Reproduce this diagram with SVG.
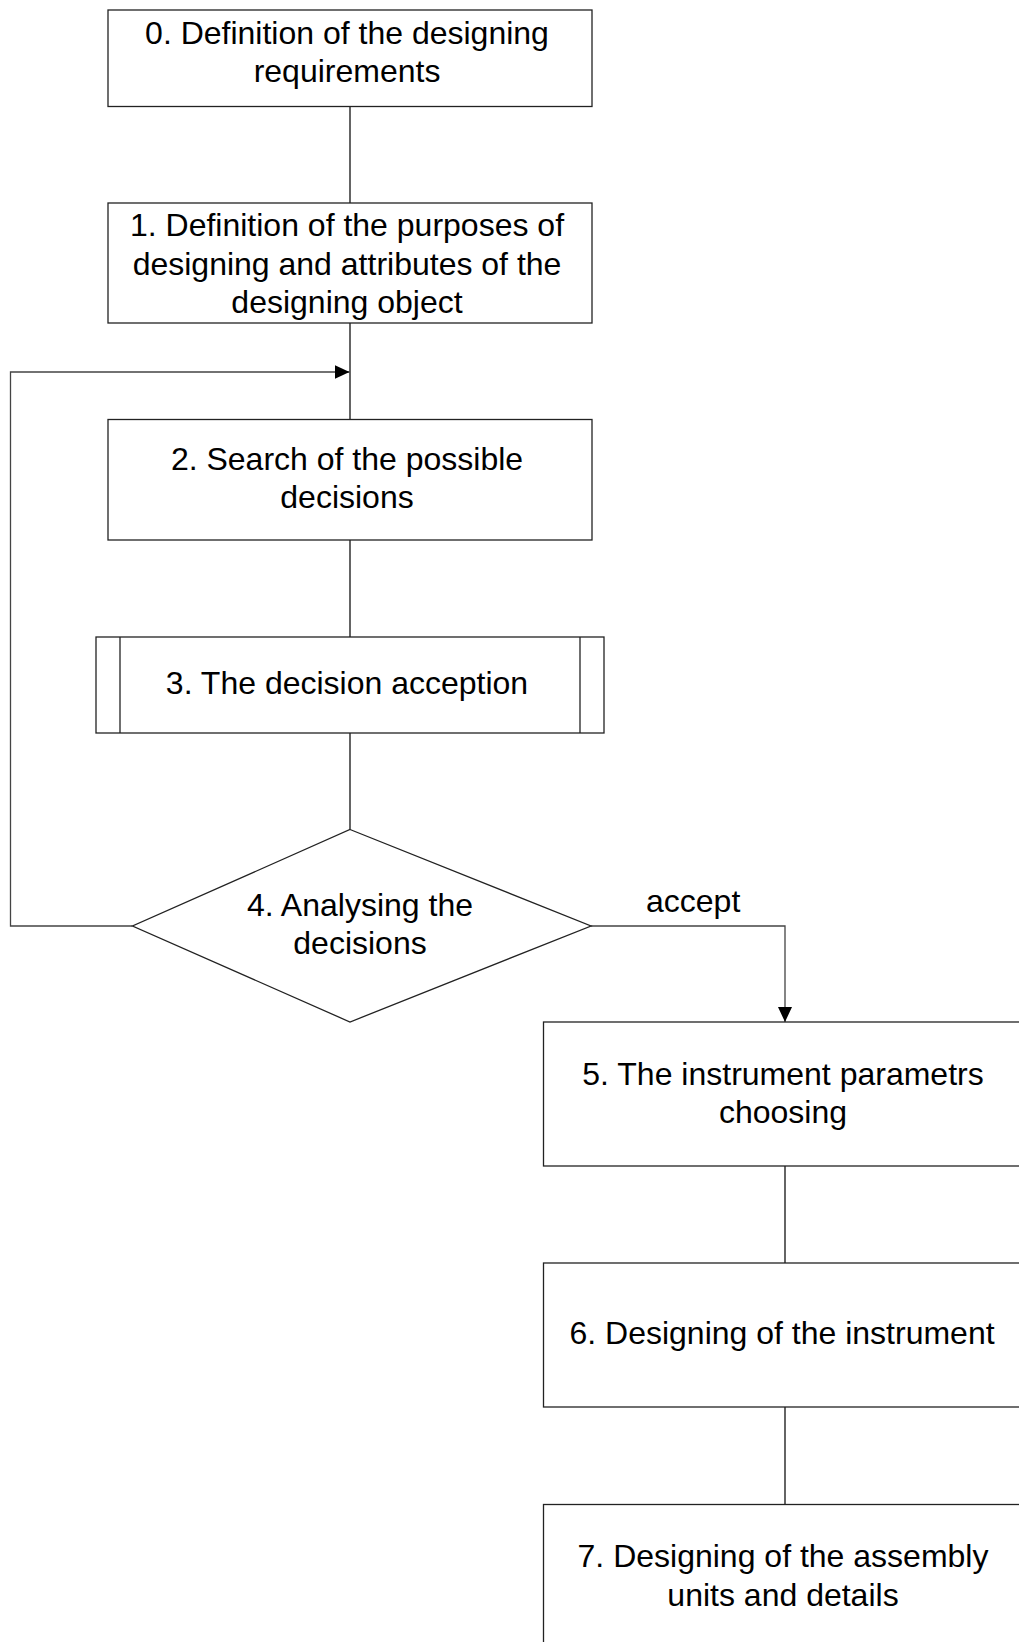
<svg xmlns="http://www.w3.org/2000/svg" width="1019" height="1642" viewBox="0 0 1019 1642">
<style>
.box{fill:#fff;stroke:#222;stroke-width:1.3}
.t{font-family:"Liberation Sans",Arial,sans-serif;font-size:32px;fill:#000;text-anchor:middle}
.c{fill:none;stroke:#111;stroke-width:1.3}
.g{fill:none;stroke:#444;stroke-width:1.3}
</style>
<defs>
<marker id="ah" markerWidth="15" markerHeight="14" refX="15" refY="7" orient="auto" markerUnits="userSpaceOnUse">
<path d="M0,0 L15,7 L0,14 Z" fill="#000"/>
</marker>
</defs>
<rect width="1019" height="1642" fill="#fff"/>
<g id="connectors">
<line class="c" x1="350" y1="107" x2="350" y2="203"/>
<line class="c" x1="350" y1="323" x2="350" y2="419"/>
<polyline class="g" points="132.5,926 10.5,926 10.5,372 349.5,372" marker-end="url(#ah)"/>
<line class="c" x1="350" y1="540" x2="350" y2="637"/>
<line class="c" x1="350" y1="733" x2="350" y2="829.5"/>
<polyline class="g" points="591,926 785,926 785,1022" marker-end="url(#ah)"/>
<line class="c" x1="785" y1="1166" x2="785" y2="1263"/>
<line class="c" x1="785" y1="1407" x2="785" y2="1504.5"/>
<text class="t" x="646" y="912" style="text-anchor:start">accept</text>
</g>
<g id="node0">
<rect class="box" x="108" y="10" width="484" height="96.5"/>
<text class="t" x="347" y="44">0. Definition of the designing</text>
<text class="t" x="347" y="82">requirements</text>
</g>
<g id="node1">
<rect class="box" x="108" y="203" width="484" height="120"/>
<text class="t" x="347" y="236">1. Definition of the purposes of</text>
<text class="t" x="347" y="275">designing and attributes of the</text>
<text class="t" x="347" y="313">designing object</text>
</g>
<g id="node2">
<rect class="box" x="108" y="419.5" width="484" height="120.5"/>
<text class="t" x="347" y="469.5">2. Search of the possible</text>
<text class="t" x="347" y="507.5">decisions</text>
</g>
<g id="node3">
<rect class="box" x="96" y="637" width="508" height="96"/>
<line class="box" x1="120" y1="637" x2="120" y2="733"/>
<line class="box" x1="580" y1="637" x2="580" y2="733"/>
<text class="t" x="347" y="694">3. The decision acception</text>
</g>
<g id="node4">
<polygon class="box" points="350,829.5 591,926 350,1022 132.5,926"/>
<text class="t" x="360" y="915.5">4. Analysing the</text>
<text class="t" x="360" y="953.5">decisions</text>
</g>
<g id="node5">
<rect class="box" x="543.5" y="1022" width="484" height="144"/>
<text class="t" x="783" y="1085">5. The instrument parametrs</text>
<text class="t" x="783" y="1123">choosing</text>
</g>
<g id="node6">
<rect class="box" x="543.5" y="1263" width="484" height="144"/>
<text class="t" x="782" y="1344">6. Designing of the instrument</text>
</g>
<g id="node7">
<rect class="box" x="543.5" y="1504.5" width="484" height="144"/>
<text class="t" x="783" y="1567">7. Designing of the assembly</text>
<text class="t" x="783" y="1606">units and details</text>
</g>
</svg>
